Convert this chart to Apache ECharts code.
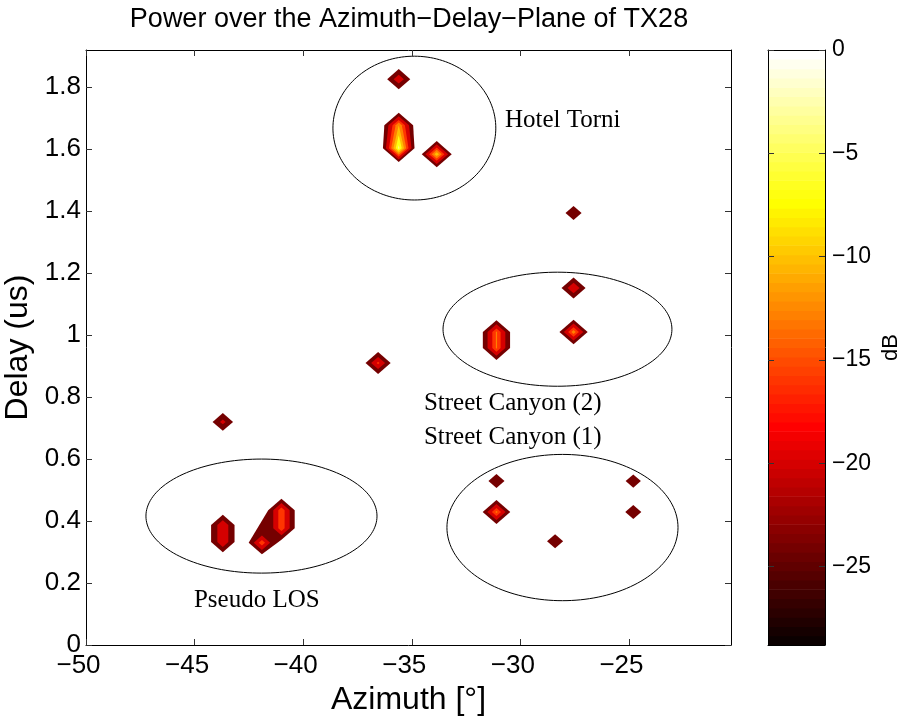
<!DOCTYPE html>
<html>
<head>
<meta charset="utf-8">
<script src="https://cdn.jsdelivr.net/npm/echarts@6/dist/echarts.min.js"></script>
<style>
html, body { margin: 0; padding: 0; background: #fff; }
#chart { width: 898px; height: 716px; }
</style>
</head>
<body>
<div id="chart"></div>
<script>
// peaks of the power map: azimuth (deg), delay (us), power (dB), blob they belong to
var peakAz    = [-35.6, -35.6, -35.6, -33.85, -27.55, -27.55, -27.55, -31.1, -31.1, -36.55, -43.7, -43.7, -43.7, -41.0, -41.0, -41.9, -31.1, -31.1, -28.4, -24.8, -24.8];
var peakDelay = [1.826, 1.677, 1.603, 1.584, 1.394, 1.152, 1.010, 1.010, 0.958, 0.910, 0.720, 0.387, 0.332, 0.435, 0.377, 0.330, 0.529, 0.429, 0.335, 0.529, 0.429];
var peakDb    = [-16.8, -10, -3, -7.5, -20.5, -16, -11, -12.5, -12.5, -15, -18.5, -16.5, -16.5, -13.5, -13.5, -13.5, -20.5, -12, -20.5, -20.8, -20.5];
var peakBlob  = ['t1', 't2', 't2', 't3', 's1', 's2', 's3', 's4', 's4', 'm1', 'm2', 'l1', 'l1', 'l2', 'l2', 'l3', 'c1', 'c2', 'c3', 'c4', 'c5'];
var floorJoin = [['l2', 'l3']];   // blobs that touch at the lowest contour

var levels = [-24, -20, -16, -13, -10, -7, -4];

// cluster ellipses
var ellipseAz     = [-34.88, -28.29, -28.06, -41.92];
var ellipseDelay  = [1.668, 1.019, 0.379, 0.416];
var ellipseRAz    = [3.75, 5.27, 5.32, 5.32];
var ellipseRDelay = [0.232, 0.184, 0.236, 0.184];

// annotations
var noteText  = ['Hotel Torni', 'Street Canyon (2)', 'Street Canyon (1)', 'Pseudo LOS'];
var noteAz    = [-30.71, -34.44, -34.44, -45.03];
var noteDelay = [1.694, 0.781, 0.671, 0.145];

var azRange = [-50, -20.3];
var delayRange = [0, 1.92];
var dbRange = [-28.8, 0];
var azTicks = [-50, -45, -40, -35, -30, -25];
var delayTicks = [0, 0.2, 0.4, 0.6, 0.8, 1, 1.2, 1.4, 1.6, 1.8];
var dbTicks = [0, -5, -10, -15, -20, -25];

var STEP_AZ = 0.9, STEP_DELAY = 0.055, FLOOR_DB = -29;

// matlab hot(64)
function hot64(i) {
    var r = i < 24 ? (i + 1) / 24 : 1;
    var g = i < 24 ? 0 : (i < 48 ? (i - 23) / 24 : 1);
    var b = i < 48 ? 0 : (i - 47) / 16;
    return 'rgb(' + Math.round(r * 255) + ',' + Math.round(g * 255) + ',' + Math.round(b * 255) + ')';
}
function dbIndex(v) {
    var k = Math.floor((v - dbRange[0]) / (dbRange[1] - dbRange[0]) * 64);
    return Math.max(0, Math.min(63, k));
}
function minus(v) { return String(v).replace('-', '\u2212'); }

function idxOf(b) {
    var out = [];
    peakBlob.forEach(function (p, i) { if (p === b) out.push(i); });
    return out;
}

var parts = [];
peakBlob.forEach(function (b) { if (parts.indexOf(b) < 0) parts.push(b); });
var joined = [].concat.apply([], floorJoin);
var hullSets = [];
parts.forEach(function (p) {
    hullSets.push({ members: idxOf(p), from: joined.indexOf(p) >= 0 ? 1 : 0, to: levels.length - 1 });
});
floorJoin.forEach(function (pair) {
    hullSets.push({ members: idxOf(pair[0]).concat(idxOf(pair[1])), from: 0, to: 0 });
});

// corners of the contour at level L around peak i (linear falloff)
function pointVerts(i, L) {
    var P = peakDb[i], f = (P - L) / (P - FLOOR_DB);
    var az = peakAz[i], d = peakDelay[i];
    var out = [[az - STEP_AZ * f, d], [az + STEP_AZ * f, d]];
    [1, -1].forEach(function (dir) {
        var j = -1;
        for (var k = 0; k < peakAz.length; k++) {
            if (k === i || peakBlob[k] !== peakBlob[i] || Math.abs(peakAz[k] - az) > 0.2) continue;
            if ((peakDelay[k] - d) * dir <= 0) continue;
            if (j < 0 || Math.abs(peakDelay[k] - d) < Math.abs(peakDelay[j] - d)) j = k;
        }
        if (j < 0) out.push([az, d + dir * STEP_DELAY * f]);
        else if (peakDb[j] >= L) out.push([az, peakDelay[j]]);
        else out.push([az, d + (peakDelay[j] - d) * (P - L) / (P - peakDb[j])]);
    });
    return out;
}

function hull(pts) {
    pts = pts.slice().sort(function (a, b) { return a[0] - b[0] || a[1] - b[1]; });
    if (pts.length < 3) return pts;
    function cross(o, a, b) { return (a[0] - o[0]) * (b[1] - o[1]) - (a[1] - o[1]) * (b[0] - o[0]); }
    var lower = [], upper = [], i;
    for (i = 0; i < pts.length; i++) {
        while (lower.length >= 2 && cross(lower[lower.length - 2], lower[lower.length - 1], pts[i]) <= 0) lower.pop();
        lower.push(pts[i]);
    }
    for (i = pts.length - 1; i >= 0; i--) {
        while (upper.length >= 2 && cross(upper[upper.length - 2], upper[upper.length - 1], pts[i]) <= 0) upper.pop();
        upper.push(pts[i]);
    }
    upper.pop(); lower.pop();
    return lower.concat(upper);
}

function renderBlob(params, api) {
    var set = hullSets[api.value(2)];
    var children = [];
    for (var li = set.from; li <= set.to; li++) {
        var L = levels[li], pts = [];
        set.members.forEach(function (i) {
            if (peakDb[i] > L) pointVerts(i, L).forEach(function (v) { pts.push(api.coord(v)); });
        });
        if (pts.length < 3) continue;
        children.push({
            type: 'polygon', z2: li,
            shape: { points: hull(pts) },
            style: { fill: hot64(dbIndex(L)) }
        });
    }
    return { type: 'group', children: children };
}

function renderEllipse(params, api) {
    var cx = api.value(0), cy = api.value(1), rx = api.value(2), ry = api.value(3);
    var pts = [];
    for (var k = 0; k < 160; k++) {
        var a = k / 160 * 2 * Math.PI;
        pts.push(api.coord([cx + rx * Math.cos(a), cy + ry * Math.sin(a)]));
    }
    return { type: 'polygon', shape: { points: pts }, style: { fill: 'none', stroke: '#000', lineWidth: 1 } };
}

function renderBand(params, api) {
    var i = api.value(1), span = (dbRange[1] - dbRange[0]) / 64;
    var lo = dbRange[0] + i * span;
    var p0 = api.coord([0, lo]), p1 = api.coord([1, lo + span]);
    return {
        type: 'rect',
        shape: { x: p0[0], y: p1[1], width: p1[0] - p0[0], height: p0[1] - p1[1] + (i < 63 ? 0.6 : 0) },
        style: { fill: hot64(i) }
    };
}

var FONT = 'Liberation Sans';
function frameAxis(grid, pos, range, ticks) {
    return {
        gridIndex: grid, type: 'value', position: pos, min: range[0], max: range[1], z: 10,
        axisLine: { show: true, onZero: false, lineStyle: { color: '#000', width: 1 } },
        axisTick: ticks ? { show: true, inside: true, length: 6, customValues: ticks, lineStyle: { color: '#333' } } : { show: false },
        axisLabel: { show: false },
        splitLine: { show: false }
    };
}

var xBottom = frameAxis(0, 'bottom', azRange, azTicks);
xBottom.axisLabel = { show: true, customValues: azTicks, formatter: minus, fontSize: 26, fontFamily: FONT, color: '#000', margin: 8, padding: [0, 15, 0, 0] };
xBottom.name = 'Azimuth [°]';
xBottom.nameLocation = 'middle';
xBottom.nameGap = 36;
xBottom.nameTextStyle = { fontSize: 32, fontFamily: FONT, color: '#000' };

var yLeft = frameAxis(0, 'left', delayRange, delayTicks);
yLeft.axisLabel = { show: true, customValues: delayTicks, formatter: minus, fontSize: 26, fontFamily: FONT, color: '#000', margin: 5 };
yLeft.name = 'Delay (us)';
yLeft.nameLocation = 'middle';
yLeft.nameRotate = 90;
yLeft.nameGap = 48;
yLeft.nameTextStyle = { fontSize: 32, fontFamily: FONT, color: '#000' };

var yBar = frameAxis(1, 'right', dbRange, dbTicks);
yBar.axisLabel = { show: true, customValues: dbTicks, formatter: minus, fontSize: 23, fontFamily: FONT, color: '#000', margin: 7 };
yBar.name = 'dB';
yBar.nameLocation = 'middle';
yBar.nameRotate = 90;
yBar.nameGap = 55;
yBar.nameTextStyle = { fontSize: 22, fontFamily: FONT, color: '#000' };

var bandIndex = [];
for (var b = 0; b < 64; b++) bandIndex.push([0, b]);

var chart = echarts.init(document.getElementById('chart'), null, { renderer: 'canvas' });
chart.setOption({
    animation: false,
    backgroundColor: '#fff',
    graphic: [{
        type: 'text', x: 409, y: 20,
        style: {
            text: 'Power over the Azimuth\u2212Delay\u2212Plane of TX28',
            fontSize: 27, fontFamily: FONT, fill: '#000', align: 'center', verticalAlign: 'middle'
        }
    }],
    grid: [
        { left: 86, top: 50, width: 645, height: 595, outerBoundsMode: 'none', containLabel: false },
        { left: 768, top: 50, width: 57, height: 595, outerBoundsMode: 'none', containLabel: false }
    ],
    xAxis: [
        xBottom,
        frameAxis(0, 'top', azRange, azTicks),
        frameAxis(1, 'bottom', [0, 1], null),
        frameAxis(1, 'top', [0, 1], null)
    ],
    yAxis: [
        yLeft,
        frameAxis(0, 'right', delayRange, delayTicks),
        yBar,
        frameAxis(1, 'left', dbRange, dbTicks)
    ],
    series: [
        {
            type: 'custom', xAxisIndex: 0, yAxisIndex: 0, z: 2,
            renderItem: renderBlob,
            data: hullSets.map(function (s, k) { return [peakAz[s.members[0]], peakDelay[s.members[0]], k]; })
        },
        {
            type: 'custom', xAxisIndex: 0, yAxisIndex: 0, z: 3,
            renderItem: renderEllipse,
            data: ellipseAz.map(function (v, i) { return [v, ellipseDelay[i], ellipseRAz[i], ellipseRDelay[i]]; })
        },
        {
            type: 'scatter', xAxisIndex: 0, yAxisIndex: 0, z: 4,
            symbolSize: 0, silent: true,
            itemStyle: { opacity: 1 },
            label: {
                show: true, position: 'right', distance: 0, formatter: '{b}', opacity: 1,
                fontFamily: 'Liberation Serif', fontSize: 25, color: '#000'
            },
            data: noteText.map(function (t, i) { return { name: t, value: [noteAz[i], noteDelay[i]] }; })
        },
        {
            type: 'custom', xAxisIndex: 2, yAxisIndex: 2, z: 1,
            renderItem: renderBand,
            data: bandIndex
        }
    ]
});
</script>
</body>
</html>
